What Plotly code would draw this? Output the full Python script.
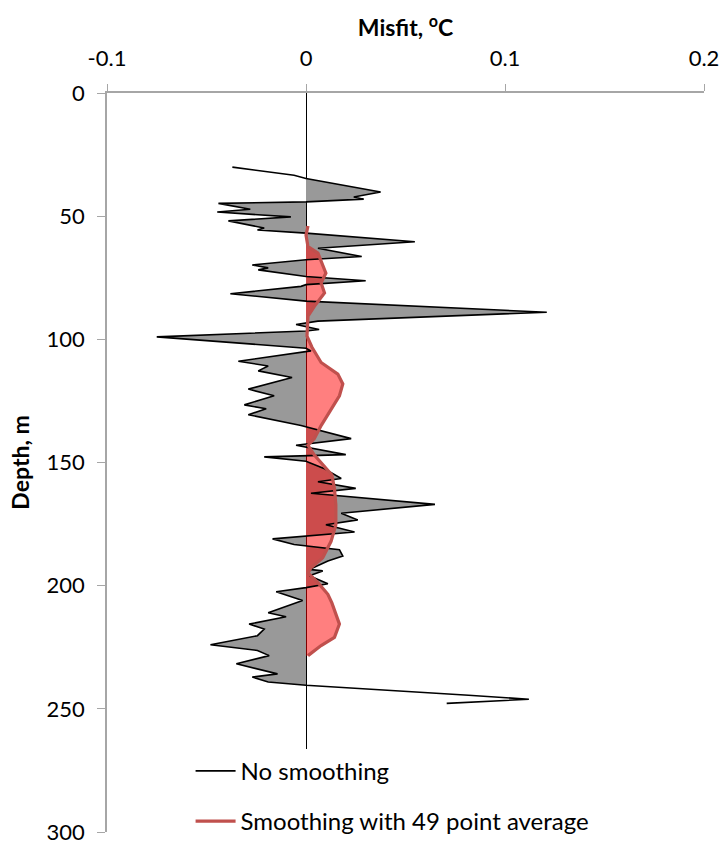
import plotly.graph_objects as go

# Raw misfit (no smoothing)
raw_depth = [30.1, 33.4, 34.7, 40.2, 42.2, 43.1, 44.2, 44.8, 47.2, 48.3, 50.3, 51.9, 54.8, 55.6, 56.9,
             60.4, 63.0, 66.4, 67.7, 69.8, 71.0, 71.8, 74.5, 76.2, 77.8, 78.5, 81.5, 84.5, 89.0, 92.6,
             94.0, 96.0, 96.6, 99.0, 103.6, 104.7, 108.9, 110.8, 112.8, 115.5, 120.2, 122.9, 126.6, 128.2,
             130.6, 135.0, 140.3, 143.0, 146.8, 147.7, 149.5, 152.4, 156.5, 157.8, 160.5, 162.5, 167.0,
             170.6, 173.3, 175.3, 178.2, 181.0, 183.3, 185.4, 188.0, 190.0, 193.4, 194.0, 196.0, 199.2,
             200.8, 202.5, 206.0, 211.0, 212.6, 215.6, 217.6, 220.3, 224.0, 226.3, 228.4, 231.7, 235.8,
             237.1, 239.1, 240.4, 244.5, 246.1, 247.8]
raw_misfit = [-0.037, -0.006, 0.0, 0.0375, 0.024, 0.029, 0.0, -0.044, -0.028, -0.0446, -0.0076, -0.039,
              -0.021, -0.0244, 0.0, 0.0547, 0.006, 0.028, 0.0, -0.027, -0.019, -0.024, 0.0, 0.030, 0.0,
              -0.0025, -0.038, 0.0, 0.121, 0.006, -0.005, 0.0066, 0.0, -0.075, 0.0, 0.0025, -0.034,
              -0.019, -0.024, -0.007, -0.029, -0.016, -0.031, -0.020, -0.029, -0.0025, 0.0227, -0.005,
              0.020, -0.021, 0.0, 0.009, 0.0177, 0.006, 0.025, 0.0025, 0.0648, 0.0177, 0.026, 0.010,
              0.0244, -0.0168, -0.006, 0.0168, 0.0185, 0.011, 0.0017, 0.0084, 0.0017, 0.011, 0.0,
              -0.015, -0.0017, -0.019, -0.010, -0.0286, -0.021, -0.0244, -0.048, -0.0244, -0.0185,
              -0.035, -0.0143, -0.027, -0.019, 0.0, 0.0817, 0.112, 0.0707]

# Smoothed misfit (49 point average)
smooth_depth = [54.0, 57.7, 62.4, 65.0, 73.1, 77.1, 81.2, 86.6, 90.6, 98.7, 103.2, 109.4, 114.1, 118.1,
                122.9, 128.2, 135.0, 140.3, 143.0, 147.0, 155.1, 160.5, 167.2, 171.2, 175.3, 182.0,
                188.7, 192.7, 194.8, 198.8, 203.5, 207.0, 215.6, 221.0, 224.3, 228.4]
smooth_misfit = [0.001, 0.0, 0.001, 0.006, 0.010, 0.0076, 0.0093, 0.0042, 0.001, 0.0005, 0.003, 0.0076,
                 0.016, 0.0185, 0.0168, 0.0126, 0.0076, 0.0042, 0.001, 0.0042, 0.013, 0.0143, 0.015,
                 0.015, 0.015, 0.0126, 0.0084, 0.0025, 0.001, 0.006, 0.011, 0.013, 0.0168, 0.0143,
                 0.0076, 0.001]

x_ticks = [-0.1, 0, 0.1, 0.2]
x_ticktext = ["-0.1", "0", "0.1", "0.2"]
y_ticks = [0, 50, 100, 150, 200, 250, 300]

# shaded part of the raw profile: between its first and last zero crossings
fill_start = raw_depth.index(34.7)
fill_end = raw_depth.index(240.4) + 1

FONT = "Lato, 'Open Sans', sans-serif"
GRAY_AXIS = "#A6A6A6"

fig = go.Figure()
fig.add_trace(go.Scatter(x=raw_misfit[fill_start:fill_end], y=raw_depth[fill_start:fill_end], mode="lines",
                         line=dict(width=0, color="rgba(0,0,0,0)"),
                         fill="tozerox", fillcolor="#999999", showlegend=False, hoverinfo="skip"))
fig.add_trace(go.Scatter(x=smooth_misfit, y=smooth_depth, mode="lines", line=dict(width=0, color="rgba(0,0,0,0)"),
                         fill="tozerox", fillcolor="rgba(255,0,0,0.5)", showlegend=False, hoverinfo="skip"))
fig.add_trace(go.Scatter(x=raw_misfit, y=raw_depth, mode="lines", line=dict(width=1.6, color="black"),
                         name="No smoothing", legendgroup="a"))
fig.add_trace(go.Scatter(x=smooth_misfit, y=smooth_depth, mode="lines", line=dict(width=3.2, color="#C0504D"),
                         name="Smoothing with 49 point average", legendgroup="b"))

fig.update_layout(
    width=723, height=842,
    margin=dict(l=107, r=19, t=93, b=10, autoexpand=False),
    plot_bgcolor="white", paper_bgcolor="white",
    font=dict(family=FONT, size=22, color="black"),
    legend=dict(x=0.14, y=-0.016, xanchor="left", yanchor="bottom", bgcolor="white",
                font=dict(family=FONT, size=24, color="black"), tracegroupgap=16,
                itemwidth=40),
    xaxis=dict(side="top", range=[-0.1, 0.2], tickvals=x_ticks, ticktext=x_ticktext,
               showline=True, linecolor=GRAY_AXIS, linewidth=1.5, ticks="outside", ticklen=7,
               tickcolor=GRAY_AXIS, showgrid=False, zeroline=True, zerolinecolor="black",
               zerolinewidth=1.2, tickfont=dict(size=22), automargin=False,
               ticklabelstandoff=9, ticklabeloverflow="allow",
               title=dict(text="<b>Misfit, <sup>o</sup>C</b>", font=dict(size=23), standoff=1)),
    yaxis=dict(range=[300, 0], tickvals=y_ticks, showline=True, linecolor=GRAY_AXIS, linewidth=1.5,
               ticks="outside", ticklen=8, tickcolor=GRAY_AXIS, showgrid=False, zeroline=False,
               tickfont=dict(size=22), automargin=False, ticklabelstandoff=8,
               ticklabeloverflow="allow",
               title=dict(text="<b>Depth, m</b>", font=dict(size=23), standoff=11)),
)

fig.write_html("out.html", config={"displayModeBar": False},
               post_script="document.body.style.margin='0';document.body.style.overflow='hidden';")
